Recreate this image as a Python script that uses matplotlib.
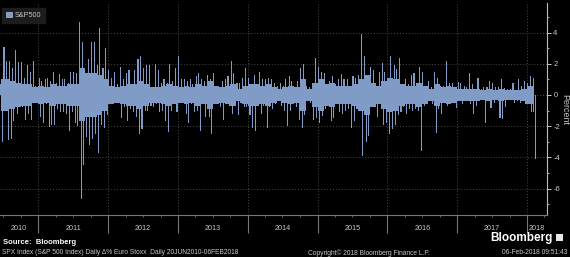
import pandas as pd
import matplotlib
matplotlib.use("Agg")
import matplotlib.pyplot as plt
import matplotlib.dates as mdates
import matplotlib.transforms as mtransforms
from matplotlib.patches import Patch, Rectangle

plt.rcParams["font.family"] = ["Liberation Sans", "DejaVu Sans"]
plt.rcParams["axes.unicode_minus"] = False

# half-month windows, 15 Jun 2010 .. 1 Feb 2018:
# biggest daily rise and biggest daily fall inside each window, in percent
window_start = pd.date_range("2010-06-15", "2018-02-01", freq="SMS")

hi_vals = [
    # 2010
    0.7, 3.1, 2.2, 2.2, 1.7, 2.9, 2.1, 2.1, 1.1, 1.9, 1.5, 2.2, 0.6,
    # 2011
    1.1, 0.9, 1.0, 1.1, 0.9, 1.5, 0.8, 1.35, 1.0, 1.0, 0.8, 1.5,
    1.5, 1.4, 4.7, 3.4, 1.4, 2.3, 3.4, 3.4, 1.9, 4.3, 1.7, 3.0,
    # 2012
    1.6, 1.1, 1.5, 0.7, 1.8, 1.0, 1.4, 1.6, 0.7, 1.6, 2.3, 2.5,
    1.7, 1.9, 1.9, 0.5, 2.0, 1.6, 0.8, 1.0, 0.8, 2.0, 0.9, 1.7,
    # 2013
    2.5, 1.0, 1.0, 0.9, 1.0, 0.7, 1.2, 1.4, 1.0, 0.9, 1.3, 1.0,
    1.4, 0.5, 0.5, 0.9, 1.0, 1.2, 2.2, 1.4, 0.8, 0.8, 1.1, 1.7,
    # 2014
    1.1, 0.6, 1.3, 0.7, 1.5, 1.0, 1.0, 1.1, 1.0, 0.8, 0.6, 0.8,
    0.6, 1.0, 1.2, 0.9, 0.5, 0.9, 1.75, 2.0, 0.6, 0.5, 0.6, 2.4,
    # 2015
    1.8, 1.5, 1.4, 0.6, 0.9, 1.2, 0.7, 1.0, 1.35, 1.0, 1.0, 0.6,
    1.2, 1.1, 1.3, 3.9, 2.5, 1.2, 1.8, 1.6, 0.6, 1.5, 2.05, 1.5,
    # 2016
    0.9, 2.5, 1.95, 1.65, 2.4, 0.6, 1.05, 0.7, 1.3, 1.4, 0.6, 1.8,
    1.5, 0.5, 0.9, 0.5, 1.5, 1.1, 0.6, 0.6, 2.2, 0.8, 0.8, 0.5,
    # 2017
    0.85, 0.8, 0.6, 0.5, 1.4, 0.7, 0.4, 1.1, 0.4, 0.5, 0.5, 0.9,
    0.75, 0.5, 0.5, 1.0, 0.45, 0.4, 0.4, 0.8, 0.3, 1.0, 0.6, 0.9,
    # 2018
    0.8, 1.2, 0.1,
]

lo_vals = [
    # 2010
    -3.0, -0.5, -2.9, -2.8, -1.7, -1.2, -0.8, -0.8, -1.6, -1.2, -1.6, -0.3, -0.5,
    # 2011
    -1.4, -1.8, -0.6, -2.05, -1.9, -1.95, -0.9, -1.1, -1.1, -1.2, -2.3, -1.1,
    -1.8, -2.0, -6.7, -4.5, -2.7, -3.2, -2.85, -2.5, -3.7, -1.9, -2.1, -1.3,
    # 2012
    -0.6, -0.6, -0.5, -0.5, -1.5, -0.8, -1.7, -0.9, -1.1, -1.4, -2.5, -2.2,
    -1.0, -1.0, -0.7, -0.8, -0.6, -1.1, -1.0, -1.7, -2.4, -1.0, -0.6, -1.1,
    # 2013
    -0.5, -0.3, -1.2, -1.8, -0.6, -1.1, -1.0, -2.3, -0.6, -1.4, -1.4, -2.5,
    -0.5, -0.5, -0.8, -1.6, -0.5, -0.7, -1.2, -0.5, -1.3, -0.5, -0.8, -0.8,
    # 2014
    -1.3, -2.1, -2.3, -0.6, -1.2, -0.7, -2.1, -0.8, -0.9, -0.6, -0.4, -0.7,
    -1.0, -2.0, -1.0, -0.5, -0.8, -1.6, -2.1, -1.3, -0.4, -0.5, -1.6, -1.5,
    # 2015
    -1.8, -1.35, -0.9, -0.4, -1.7, -1.5, -0.5, -1.1, -1.2, -1.0, -0.9, -2.1,
    -1.7, -0.9, -1.0, -3.9, -3.0, -2.6, -0.7, -0.6, -1.4, -0.4, -1.9, -1.8,
    # 2016
    -2.5, -2.2, -1.9, -1.3, -1.1, -0.8, -1.2, -0.9, -1.0, -0.9, -1.0, -3.6,
    -0.7, -0.5, -0.4, -0.6, -2.45, -0.9, -1.25, -0.5, -0.7, -0.4, -0.4, -0.85,
    # 2017
    -0.4, -0.6, -0.2, -0.3, -0.6, -1.25, -0.7, -0.4, -0.2, -1.8, -0.4, -0.85,
    -0.5, -0.3, -1.45, -1.55, -0.8, -0.3, -0.2, -0.5, -0.4, -0.5, -0.4, -0.55,
    # 2018
    -0.2, -1.1, -4.1,
]

# months Jun 2010 .. Feb 2018: typical size of a daily move (the dense band round zero)
month_start = pd.date_range("2010-06-01", "2018-02-01", freq="MS")
typ_vals = [
    # 2010 Jun-Dec
    1.0, 1.0, 0.9, 0.8, 0.7, 0.7, 0.5,
    # 2011
    0.6, 0.5, 0.7, 0.6, 0.6, 0.7, 0.7, 1.7, 1.4, 1.4, 1.3, 1.0,
    # 2012
    0.6, 0.5, 0.6, 0.7, 0.7, 0.9, 0.7, 0.5, 0.5, 0.6, 0.7, 0.6,
    # 2013
    0.5, 0.6, 0.5, 0.7, 0.6, 0.9, 0.6, 0.5, 0.6, 0.7, 0.4, 0.6,
    # 2014
    0.7, 0.7, 0.6, 0.7, 0.5, 0.4, 0.5, 0.6, 0.5, 1.0, 0.4, 0.8,
    # 2015
    1.0, 0.7, 0.8, 0.6, 0.6, 0.6, 0.7, 1.0, 1.3, 0.8, 0.6, 0.9,
    # 2016
    1.1, 1.0, 0.7, 0.6, 0.6, 0.8, 0.6, 0.4, 0.7, 0.5, 0.6, 0.5,
    # 2017
    0.4, 0.4, 0.4, 0.4, 0.3, 0.4, 0.3, 0.4, 0.3, 0.3, 0.3, 0.4,
    # 2018 Jan-Feb
    0.6, 1.1,
]

data_first = pd.Timestamp("2010-06-21")
data_last = pd.Timestamp("2018-02-07")

years = list(range(2010, 2019))
y_ticks = [-6, -4, -2, 0, 2, 4]

BAR = "#7f9bc6"
TXT = "#c8c8c8"
GRID = "#4a4a4a"

# rises drawn in the first half of each window, falls in the second half
hi_x = window_start + pd.Timedelta(days=4)
lo_x = window_start + pd.Timedelta(days=11)
x_left = pd.Timestamp("2010-06-14")
x_right = pd.Timestamp("2018-04-15")

band_left = [max(m, data_first) for m in month_start]
band_right = [min(m + pd.offsets.MonthBegin(1), data_last) for m in month_start]
band_width = [(b - a).days for a, b in zip(band_left, band_right)]

fig = plt.figure(figsize=(5.7, 2.57), dpi=100, facecolor="black")
ax = fig.add_axes([0.0, 1 - 215 / 257, 547 / 570, 212 / 257], facecolor="black")

ax.bar(band_left, typ_vals, width=band_width, align="edge", color=BAR, linewidth=0, zorder=3)
ax.bar(band_left, [-v for v in typ_vals], width=band_width, align="edge", color=BAR,
       linewidth=0, zorder=3)
ax.bar(hi_x, hi_vals, width=5.5, color=BAR, linewidth=0, zorder=4)
ax.bar(lo_x, lo_vals, width=5.5, color=BAR, linewidth=0, zorder=4)

ax.set_xlim(x_left, x_right)
ax.set_ylim(-7.7, 5.9)

# y axis on the right
ax.yaxis.tick_right()
ax.set_yticks(y_ticks)
ax.set_yticks([-7, -5, -3, -1, 1, 3, 5], minor=True)
ax.tick_params(axis="y", which="major", colors=TXT, labelsize=5.5, length=3, width=0.7, pad=1.5)
ax.tick_params(axis="y", which="minor", colors=TXT, length=1.5, width=0.6)

# x axis: year separators as long ticks, quarters as short ones
ax.xaxis.set_major_locator(mdates.YearLocator())
ax.xaxis.set_minor_locator(mdates.MonthLocator(bymonth=[4, 7, 10]))
ax.xaxis.set_major_formatter(plt.NullFormatter())
ax.tick_params(axis="x", which="major", colors="#777777", length=13, width=0.8)
ax.tick_params(axis="x", which="minor", colors="#777777", length=1.5, width=0.6)

for side in ("left", "top"):
    ax.spines[side].set_visible(False)
ax.spines["right"].set_color("#bbbbbb")
ax.spines["right"].set_linewidth(0.8)
ax.spines["bottom"].set_color("#777777")
ax.spines["bottom"].set_linewidth(0.8)

ax.grid(True, which="major", color=GRID, linestyle=(0, (1, 2)), linewidth=0.7, zorder=1)

# year labels centred in the visible part of each year
trans = mtransforms.blended_transform_factory(ax.transData, ax.transAxes)
for yr in years:
    a = max(pd.Timestamp(f"{yr}-01-01"), x_left)
    b = min(pd.Timestamp(f"{yr + 1}-01-01"), x_right)
    ax.text(a + (b - a) / 2, -0.066, str(yr), transform=trans, ha="center", va="center",
            color=TXT, fontsize=5.2, clip_on=False)

leg = ax.legend(handles=[Patch(facecolor=BAR, edgecolor="#b0c0dc", linewidth=0.5, label="S&P500")],
                loc="upper left", bbox_to_anchor=(0.0, 0.985), fontsize=5.2, frameon=True,
                facecolor="#1c1c1c", edgecolor="#1c1c1c", framealpha=1, fancybox=False,
                handlelength=0.8, handleheight=0.8, handletextpad=0.4, borderpad=0.5,
                borderaxespad=0.3)
for t in leg.get_texts():
    t.set_color(TXT)

fig.text(565 / 570, 1 - 110 / 257, "Percent", rotation=270, ha="center", va="center",
         color=TXT, fontsize=6.5)

fig.text(3 / 570, 1 - 242 / 257, "Source:  Bloomberg", ha="left", va="center",
         color="white", fontsize=5.5, fontweight="bold")
fig.text(2 / 570, 1 - 253 / 257,
         "SPX Index (S&P 500 Index) Daily \u0394% Euro Stoxx  Daily 20JUN2010-06FEB2018",
         ha="left", va="center", color=TXT, fontsize=4.8)
fig.text(308 / 570, 1 - 253 / 257, "Copyright\u00a9 2018 Bloomberg Finance L.P.",
         ha="left", va="center", color=TXT, fontsize=4.8)
fig.text(567 / 570, 1 - 253 / 257, "06-Feb-2018 09:51:43", ha="right", va="center",
         color=TXT, fontsize=4.8)
fig.text(553 / 570, 1 - 237.5 / 257, "Bloomberg", ha="right", va="center",
         color="white", fontsize=8.5, fontweight="bold")
fig.patches.append(Rectangle((556 / 570, 1 - 241 / 257), 7 / 570, 7.5 / 257,
                             transform=fig.transFigure, facecolor="#e8e8e8", edgecolor="none"))

fig.savefig("out.png", dpi=100, facecolor="black")
